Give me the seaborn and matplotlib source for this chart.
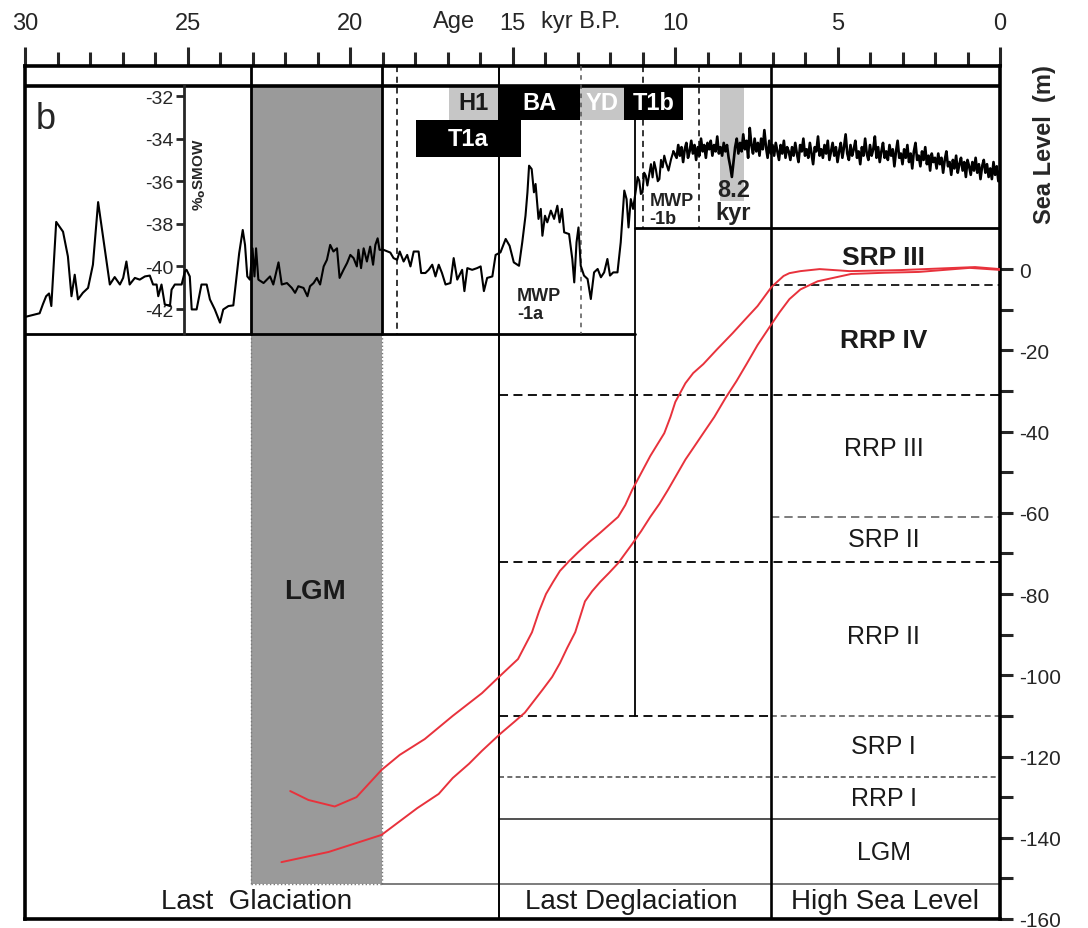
import numpy as np
import matplotlib
matplotlib.use("Agg")
import matplotlib.pyplot as plt
from matplotlib.ticker import MultipleLocator, FixedLocator
from matplotlib.patches import Rectangle
import seaborn as sns

sns.set_style("white")
plt.rcParams["font.family"] = ["Liberation Sans", "DejaVu Sans"]
plt.rcParams["axes.unicode_minus"] = False

# ---------------- data ----------------
# Oxygen isotope record, glacial and deglacial part (age in kyr B.P., per mil SMOW)
d18o_age_a = [30.07, 29.55, 29.45, 29.35, 29.26, 29.19, 29.04, 28.83, 28.68, 28.57,
              28.47, 28.37, 28.22, 28.06, 27.91, 27.75, 27.60, 27.39, 27.24, 27.08,
              26.98, 26.88, 26.78, 26.62, 26.47, 26.31, 26.16, 26.06, 25.95, 25.90,
              25.80, 25.70, 25.54, 25.49, 25.39, 25.18, 25.08, 25.03, 24.93, 24.87,
              24.72, 24.57, 24.41, 24.31, 24.16, 24.00, 23.90, 23.74, 23.59, 23.49,
              23.41, 23.30, 23.23, 23.16, 23.08, 23.00, 22.94, 22.89, 22.82, 22.66,
              22.46, 22.36, 22.20, 22.10, 21.94, 21.79, 21.69, 21.59, 21.43, 21.31,
              21.23, 21.12, 21.02, 20.92, 20.81, 20.71, 20.61, 20.51, 20.40, 20.32,
              20.20, 20.09, 19.99, 19.89, 19.79, 19.74, 19.66, 19.58, 19.48, 19.38,
              19.29, 19.22, 19.15, 19.09, 18.97, 18.76, 18.66, 18.55, 18.47, 18.35,
              18.24, 18.14, 18.04, 17.89, 17.81, 17.68, 17.58, 17.47, 17.37, 17.27,
              17.17, 17.06, 16.91, 16.81, 16.70, 16.55, 16.48, 16.39, 16.24, 16.09,
              15.98, 15.88, 15.78, 15.62, 15.52, 15.42]
d18o_val_a = [-42.40, -42.20, -41.78, -41.40, -41.27, -41.86, -37.91, -38.37, -39.53, -41.40,
              -40.39, -41.55, -41.24, -41.01, -39.92, -36.98, -38.60, -40.85, -40.50, -40.85,
              -40.54, -39.77, -40.85, -40.54, -40.62, -40.47, -40.43, -40.85, -40.85, -41.40,
              -40.85, -41.78, -41.86, -41.09, -40.85, -40.85, -40.23, -40.16, -40.47, -42.02,
              -42.02, -40.85, -40.85, -41.55, -42.02, -42.64, -42.02, -41.86, -41.83, -40.47,
              -39.38, -38.29, -38.99, -40.47, -40.62, -39.15, -40.47, -39.15, -40.62, -40.78,
              -40.47, -40.85, -39.81, -40.85, -40.78, -41.01, -41.24, -40.93, -41.01, -41.40,
              -40.93, -40.78, -40.54, -40.85, -40.00, -39.69, -38.99, -39.30, -39.15, -40.54,
              -40.16, -39.84, -39.46, -39.61, -40.00, -39.22, -40.08, -39.15, -39.77, -39.07,
              -39.92, -38.99, -38.68, -39.22, -39.22, -39.35, -39.61, -39.69, -39.30, -39.77,
              -39.46, -40.00, -39.30, -39.30, -40.31, -40.31, -40.16, -39.92, -40.47, -39.92,
              -40.31, -40.85, -40.78, -39.61, -40.62, -40.16, -41.16, -40.08, -40.16, -40.08,
              -40.00, -41.16, -40.54, -40.47, -39.46, -39.38]

# Bolling-Allerod, Younger Dryas and early Holocene transition
d18o_age_b = [15.37, 15.21, 15.09, 14.96, 14.80, 14.70, 14.60, 14.54, 14.49, 14.41,
              14.34, 14.29, 14.20, 14.13, 14.08, 14.00, 13.93, 13.82, 13.72, 13.62,
              13.55, 13.48, 13.41, 13.26, 13.16, 13.10, 13.03, 12.97, 12.90, 12.80,
              12.69, 12.59, 12.49, 12.38, 12.28, 12.18, 12.08, 12.00, 11.90, 11.77,
              11.67, 11.56, 11.49, 11.43, 11.36, 11.29, 11.20, 11.15, 11.10, 11.05,
              11.00, 10.95, 10.90, 10.85, 10.79, 10.74, 10.69, 10.64, 10.59, 10.53,
              10.48, 10.43, 10.38, 10.33, 10.28, 10.20, 10.12, 10.05]
d18o_val_b = [-39.34, -38.71, -39.03, -39.81, -39.97, -38.87, -37.62, -36.52, -35.27, -35.43,
              -36.52, -36.13, -37.77, -37.30, -38.56, -37.62, -37.93, -37.38, -37.77, -37.15,
              -37.93, -37.30, -38.40, -38.48, -39.65, -40.75, -38.87, -38.17, -39.97, -40.43,
              -40.59, -41.53, -40.28, -40.12, -40.51, -40.28, -39.65, -40.43, -40.28, -40.28,
              -38.87, -36.44, -36.84, -38.17, -36.84, -37.30, -36.37, -35.80, -35.97, -36.60,
              -36.52, -35.60, -35.74, -36.20, -35.66, -35.20, -35.82, -35.10, -35.43, -36.00,
              -35.90, -35.00, -35.35, -34.80, -35.11, -35.50, -34.96, -34.60]

# Holocene part, one value every 0.05 kyr from 9.95 to 0 kyr B.P.
d18o_age_c = np.round(np.arange(9.95, -0.001, -0.05), 2)
d18o_val_c = [
    -34.9, -34.3, -34.8, -34.4, -35.1, -34.5, -34.2, -34.9, -34.6, -34.1,
    -34.7, -34.3, -35.0, -34.4, -34.8, -34.0, -34.6, -34.3, -34.9, -34.2,
    -34.5, -34.1, -34.8, -34.3, -34.6, -33.9, -34.7, -34.4, -34.8, -34.2,
    -34.6, -34.3, -34.9, -35.3, -35.8, -35.1, -34.4, -34.0, -34.7, -34.2,
    -34.6, -33.8, -34.5, -34.1, -34.9, -33.5, -34.3, -34.7, -34.0, -34.6,
    -34.2, -34.8, -34.0, -34.5, -33.6, -34.4, -34.9, -34.1, -34.7, -34.3,
    -34.8, -34.2, -34.6, -35.0, -34.3, -34.7, -34.1, -34.9, -34.4, -34.6,
    -35.0, -34.4, -34.8, -34.2, -34.7, -35.1, -34.3, -34.6, -34.0, -34.8,
    -34.5, -34.9, -34.2, -34.7, -35.2, -34.4, -34.6, -33.9, -34.8, -34.5,
    -34.9, -34.3, -34.7, -34.1, -35.0, -34.6, -34.2, -34.8, -34.4, -35.1,
    -34.6, -34.2, -34.9, -34.4, -33.8, -34.7, -35.0, -34.3, -34.8, -34.5,
    -34.1, -34.9, -34.6, -35.2, -34.4, -34.8, -34.0, -34.7, -35.0, -34.3,
    -34.8, -34.5, -33.9, -34.9, -34.4, -35.1, -34.6, -34.2, -34.9, -34.6,
    -35.0, -34.3, -34.8, -34.5, -35.3, -34.6, -34.1, -34.9, -34.7, -35.2,
    -34.5, -34.9, -34.3, -35.1, -34.7, -35.4, -34.6, -34.2, -35.0, -34.8,
    -35.3, -34.6, -35.0, -34.4, -35.2, -34.8, -35.5, -34.7, -35.1, -34.9,
    -35.4, -34.7, -35.2, -34.9, -35.6, -35.0, -34.6, -35.3, -35.1, -35.7,
    -35.0, -35.4, -34.8, -35.6, -35.2, -34.9, -35.5, -35.1, -35.8, -35.0,
    -35.3, -35.7, -35.1, -35.5, -34.9, -35.6, -35.2, -35.9, -35.3, -35.0,
    -35.6, -35.2, -35.8, -35.4, -35.9, -35.1, -35.7, -35.3, -36.0, -35.5]

# Sea-level envelope curves (age kyr B.P., metres)
sl_upper_age = [21.84, 21.28, 20.47, 19.80, 19.03, 18.47, 17.70, 16.84, 15.94, 15.39,
                14.83, 14.40, 14.18, 13.97, 13.75, 13.54, 13.26, 12.98, 12.64, 12.30,
                11.75, 11.53, 11.32, 11.04, 10.76, 10.33, 10.14, 9.99, 9.68, 9.44,
                9.13, 8.70, 8.23, 7.83, 7.46, 7.03, 6.66, 6.48, 6.14, 5.55,
                4.63, 3.08, 1.54, 0.77, 0.00]
sl_upper_m = [-128.5, -130.7, -132.3, -130.0, -123.3, -119.6, -115.7, -110.0, -104.4, -100.2,
              -96.0, -89.4, -84.2, -80.0, -77.0, -74.3, -71.9, -69.7, -67.2, -64.9,
              -61.0, -58.1, -54.4, -50.2, -46.0, -40.4, -36.4, -32.7, -28.1, -25.6,
              -23.4, -19.7, -15.8, -12.3, -9.1, -4.4, -1.7, -1.0, -0.5, 0.0,
              -0.5, -0.25, 0.25, 0.5, 0.0]
sl_lower_age = [22.11, 20.66, 19.03, 17.93, 17.27, 16.84, 16.34, 15.94, 15.39, 14.92,
                14.62, 14.07, 13.78, 13.54, 13.32, 13.07, 12.77, 12.55, 12.30, 12.03,
                11.75, 11.32, 11.04, 10.76, 10.48, 10.22, 9.68, 9.40, 9.13, 8.79,
                8.45, 8.11, 7.80, 7.46, 7.06, 6.78, 6.48, 6.14, 5.61, 4.58,
                3.55, 2.50, 0.93, 0.00]
sl_lower_m = [-146.0, -143.5, -139.3, -132.7, -129.2, -125.3, -121.8, -118.6, -114.5, -111.3,
              -109.2, -103.5, -100.4, -97.0, -93.3, -89.4, -81.8, -79.3, -77.0, -74.8,
              -72.4, -67.7, -64.5, -61.0, -57.8, -54.4, -46.9, -43.6, -40.4, -36.4,
              -31.8, -27.6, -23.4, -18.7, -13.9, -10.6, -7.4, -5.0, -3.0, -1.2,
              -0.9, -0.7, 0.3, -0.2]

# Climate events (kyr B.P.)
event_names = ["H1", "BA", "YD", "T1b", "T1a"]
event_old = [16.96, 15.45, 12.92, 11.56, 17.98]
event_young = [15.45, 12.92, 11.56, 9.74, 14.74]

# Periods (kyr B.P.)
lgm_old, lgm_young = 23.05, 19.03
deglac_start, highsea_start, mwp_split = 15.42, 7.06, 11.22
event_8k2 = (8.63, 7.89)

# Sea-level stage names and their mid depths (m)
stage_names = ["SRP III", "RRP IV", "RRP III", "SRP II", "RRP II", "SRP I", "RRP I", "LGM"]
stage_mid = [3.0, -17.5, -44.0, -66.5, -90.3, -117.5, -130.2, -143.5]
stage_bold = [True, True, False, False, False, False, False, False]
period_names = ["Last  Glaciation", "Last Deglaciation", "High Sea Level"]
period_center = [22.86, 11.35, 3.55]

# ---------------- figure ----------------
fig = plt.figure(figsize=(10.88, 9.29), dpi=100)
ax = fig.add_axes([25 / 1088, 9 / 929, 975 / 1088, 853 / 929])
ax2 = ax.twinx()

ax.set_xlim(30, 0)
ax.set_ylim(-160, 50)
ax.set_facecolor("white")

for s in ax.spines.values():
    s.set_linewidth(2.6)
    s.set_color("black")

# top age axis
ax.xaxis.tick_top()
ax.xaxis.set_major_locator(FixedLocator([30, 25, 20, 15, 10, 5, 0]))
ax.xaxis.set_minor_locator(MultipleLocator(1))
ax.tick_params(axis="x", which="major", direction="out", length=14, width=2.2,
               labelsize=17, pad=9)
ax.tick_params(axis="x", which="minor", direction="out", length=10, width=2.2)
ax.text(16.8, 1.053, "Age", transform=ax.get_xaxis_transform(), ha="center",
        va="center", fontsize=17)
ax.text(12.9, 1.053, "kyr B.P.", transform=ax.get_xaxis_transform(), ha="center",
        va="center", fontsize=17)

# right sea-level axis
ax.yaxis.tick_right()
ax.yaxis.set_label_position("right")
ax.yaxis.set_major_locator(FixedLocator(list(range(-160, 1, 20))))
ax.yaxis.set_minor_locator(FixedLocator(list(range(-150, 0, 20))))
ax.tick_params(axis="y", which="both", direction="out", length=9, width=2.2,
               labelsize=15, pad=5, left=False, labelleft=False,
               right=True, labelright=True)
fig.text(1045 / 1088, 1 - 145 / 929, "Sea Level  (m)", rotation=90, ha="center",
         va="center", fontsize=17, fontweight="bold")

# LGM shading
ax.add_patch(Rectangle((lgm_young, -151.3), lgm_old - lgm_young, 45.1 + 151.3,
                       facecolor="#9a9a9a", edgecolor="none", zorder=0.5))
for xv in (lgm_old, lgm_young):
    ax.plot([xv, xv], [-16, -151.3], color="#7a7a7a", lw=1, ls=":", zorder=0.6)
ax.plot([lgm_old, lgm_young], [-151.3, -151.3], color="#7a7a7a", lw=1, ls=":", zorder=0.6)

# frame lines of the isotope panel and top strip
ax.axhline(45.1, color="black", lw=2.6, zorder=3)
ax.plot([30, mwp_split], [-16, -16], color="black", lw=2.0, zorder=3)
ax.plot([mwp_split, 0], [10, 10], color="black", lw=2.0, zorder=3)
for xv in (lgm_old, lgm_young):
    ax.plot([xv, xv], [50, -16], color="black", lw=2.0, zorder=3)
ax.plot([deglac_start, deglac_start], [50, -160], color="black", lw=1.4, zorder=3)
ax.plot([highsea_start, highsea_start], [50, -160], color="black", lw=1.9, zorder=3)
ax.plot([mwp_split, mwp_split], [45, -110], color="black", lw=1.3, zorder=3)
ax.plot([18.56, 18.56], [50, -16], color="black", lw=1.1, ls=(0, (4, 3)), zorder=3)
ax.plot([12.89, 12.89], [50, -16], color="#555555", lw=1.1, ls=(0, (3, 3)), zorder=3)
ax.plot([10.98, 10.98], [50, 10], color="black", lw=1.1, ls=(0, (4, 3)), zorder=3)
ax.plot([9.25, 9.25], [50, 10], color="black", lw=1.1, ls=(0, (4, 3)), zorder=3)

# stage boundaries
dash = (0, (5, 3))
ax.plot([highsea_start, 0], [-4, -4], color="black", lw=1.2, ls=dash)
ax.plot([deglac_start, 0], [-31, -31], color="black", lw=1.3, ls=dash)
ax.plot([highsea_start, 0], [-61, -61], color="#666666", lw=1.2, ls=dash)
ax.plot([deglac_start, 0], [-72, -72], color="black", lw=1.3, ls=dash)
ax.plot([deglac_start, highsea_start], [-110, -110], color="black", lw=1.3, ls=dash)
ax.plot([highsea_start, 0], [-110, -110], color="#777777", lw=1.4, ls=(0, (3, 2)))
ax.plot([deglac_start, 0], [-125, -125], color="#555555", lw=1.2, ls=(0, (3, 2)))
ax.plot([deglac_start, 0], [-135.4, -135.4], color="#333333", lw=1.2)
ax.plot([lgm_young, 0], [-151.3, -151.3], color="#666666", lw=1.2)

# event boxes
for name, old, young in zip(event_names, event_old, event_young):
    if name == "T1a":
        top, bot = 36.7, 27.6
    else:
        top, bot = 45.1, 36.7
    grey = name in ("H1", "YD")
    ax.add_patch(Rectangle((young, bot), old - young, top - bot,
                           facecolor="#c6c6c6" if grey else "black",
                           edgecolor="none", zorder=2))
    ax.text((old + young) / 2, (top + bot) / 2, name, ha="center", va="center",
            fontsize=17, fontweight="bold",
            color="#1a1a1a" if name == "H1" else "white", zorder=4)
ax.add_patch(Rectangle((event_8k2[1], 16.7), event_8k2[0] - event_8k2[1], 45.1 - 16.7,
                       facecolor="#c6c6c6", edgecolor="none", zorder=1))

# annotations in the isotope panel
ax.text(29.36, 37.0, "b", ha="center", va="center", fontsize=26)
ax.text(14.86, -8.8, "MWP\n-1a", ha="left", va="center", fontsize=13,
        fontweight="bold", linespacing=1.1, color="#222222", zorder=4)
ax.text(10.78, 14.6, "MWP\n-1b", ha="left", va="center", fontsize=13,
        fontweight="bold", linespacing=1.1, color="#222222", zorder=4)
ax.text(8.2, 16.8, "8.2\nkyr", ha="center", va="center", fontsize=17,
        fontweight="bold", linespacing=1.0, color="#222222", zorder=4)
ax.text(24.62, 23.4, r"%$_\mathbf{o}$SMOW", rotation=90, ha="center", va="center",
        fontsize=11, fontweight="bold", zorder=4)

# stage and period labels
for name, ym, bold in zip(stage_names, stage_mid, stage_bold):
    ax.text(3.58, ym, name, ha="center", va="center",
            fontsize=19 if bold else 18, fontweight="bold" if bold else "normal",
            color="#1a1a1a")
ax.text(21.07, -79.2, "LGM", ha="center", va="center", fontsize=20,
        fontweight="bold", color="#1a1a1a", zorder=4)
for name, xc in zip(period_names, period_center):
    ax.text(xc, -155.6, name, ha="center", va="center", fontsize=20, color="#1a1a1a")

# sea-level curves
for ages, vals in ((sl_upper_age, sl_upper_m), (sl_lower_age, sl_lower_m)):
    sns.lineplot(x=ages, y=vals, ax=ax, color="#e8323c", linewidth=1.4,
                 sort=False, estimator=None, zorder=5)

# isotope axis on the twin
ax2.set_ylim(-70.64, -30.59)
ax2.patch.set_visible(False)
for key, s in ax2.spines.items():
    s.set_visible(key == "left")
ax2.spines["left"].set_position(("data", 25.1))
ax2.spines["left"].set_bounds(-43.17, -31.53)
ax2.spines["left"].set_linewidth(2.0)
ax2.yaxis.set_ticks_position("left")
ax2.set_yticks([-42, -40, -38, -36, -34, -32])
ax2.tick_params(axis="y", direction="out", length=6, width=2.0, labelsize=14, pad=2,
                right=False, labelright=False, left=True, labelleft=True)
ax2.tick_params(axis="x", which="both", top=False, bottom=False,
                labeltop=False, labelbottom=False)

# isotope curve: glacial/deglacial section, then the denser Holocene section
d18o_age = list(d18o_age_a) + list(d18o_age_b)
d18o_val = list(d18o_val_a) + list(d18o_val_b)
sns.lineplot(x=d18o_age, y=d18o_val, ax=ax2, color="black", linewidth=1.5,
             sort=False, estimator=None, zorder=6)
sns.lineplot(x=[d18o_age_b[-1]] + list(d18o_age_c), y=[d18o_val_b[-1]] + list(d18o_val_c),
             ax=ax2, color="black", linewidth=1.9, sort=False, estimator=None, zorder=6)
ax2.set_xlim(30, 0)
ax.set_xlabel("")
ax.set_ylabel("")
ax2.set_ylabel("")

fig.savefig("out.png", dpi=100)
